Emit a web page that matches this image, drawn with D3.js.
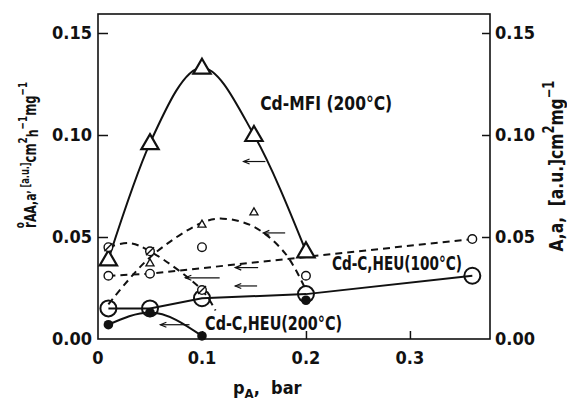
<!DOCTYPE html>
<html>
<head>
<meta charset="utf-8">
<script src="https://cdn.jsdelivr.net/npm/d3@7"></script>
<style>
  body { margin: 0; background: #fff; }
  svg { display: block; }
  text { font-family: "DejaVu Sans Condensed", "Liberation Sans Narrow", sans-serif; font-weight: bold; fill: #111; }
</style>
</head>
<body>
<svg width="567" height="401"></svg>
<script>
// data, [pA (bar), value]
var xTicks = [0, 0.1, 0.2, 0.3];
var xTickLabels = ["0", "0.1", "0.2", "0.3"];
var yTicks = [0, 0.05, 0.10, 0.15];
var yTickLabels = ["0.00", "0.05", "0.10", "0.15"];

// Cd-MFI (200°C) big triangles + solid curve
var mfiTri = [[0.01, 0.039], [0.05, 0.096], [0.10, 0.133], [0.15, 0.100], [0.20, 0.043]];
// Cd-C,HEU(100°C) big open circles, solid line
var heu100Big = [[0.01, 0.015], [0.05, 0.015], [0.10, 0.020], [0.20, 0.022], [0.36, 0.031]];
// small open circles, dashed line
var heu100Small = [[0.01, 0.031], [0.05, 0.032], [0.36, 0.049]];
var smallCircExtra = [[0.10, 0.045], [0.20, 0.031]];
// slashed small circles + falling dashed curve
var slashCirc = [[0.01, 0.045], [0.05, 0.043], [0.10, 0.024]];
var slashCurve = [[0.01, 0.045], [0.03, 0.047], [0.05, 0.043], [0.10, 0.024], [0.113, 0.014]];
// small triangles + hump dashed curve
var smallTri = [[0.05, 0.037], [0.10, 0.056], [0.15, 0.062]];
var humpCurve = [[0.01, 0.017], [0.05, 0.040], [0.10, 0.057], [0.12, 0.059], [0.15, 0.055], [0.18, 0.042], [0.20, 0.024]];
// Cd-C,HEU(200°C) filled circles + solid curve
var heu200 = [[0.01, 0.007], [0.05, 0.013], [0.10, 0.0015]];
var heu200Extra = [[0.20, 0.019]];
// little arrows pointing to the left axis: [x1, x2, y]
var arrows = [[0.140, 0.161, 0.087], [0.159, 0.180, 0.052], [0.132, 0.154, 0.035],
              [0.084, 0.117, 0.030], [0.132, 0.153, 0.026], [0.060, 0.088, 0.007]];
// curve labels: [text, x, y, length px]
var labels = [["Cd-MFI (200°C)", 0.156, 0.1125, 132], ["Cd-C,HEU(100°C)", 0.225, 0.0338, 130], ["Cd-C,HEU(200°C)", 0.103, 0.0045, 137]];

var svg = d3.select("svg");
var pLeft = 98, pRight = 490, pTop = 14, pBottom = 339;

var x = d3.scaleLinear().domain([0, 0.377]).range([pLeft, pRight]);
var y = d3.scaleLinear().domain([0, 0.05]).range([pBottom, pBottom - 102]);

var g = svg.append("g");

//边框
g.append("rect")
  .attr("x", pLeft).attr("y", pTop)
  .attr("width", pRight - pLeft).attr("height", pBottom - pTop)
  .attr("fill", "none").attr("stroke", "#111").attr("stroke-width", 1.6);

//刻度 (inward)
var xAxis = d3.axisBottom(x).tickValues(xTicks.slice(1)).tickSize(-8).tickFormat("");
g.append("g").attr("transform", `translate(0,${pBottom})`).call(xAxis)
  .call(a => a.select(".domain").remove())
  .selectAll("line").attr("stroke", "#111").attr("stroke-width", 1.5);
var yAxisL = d3.axisLeft(y).tickValues(yTicks.slice(1)).tickSize(-10).tickFormat("");
g.append("g").attr("transform", `translate(${pLeft},0)`).call(yAxisL)
  .call(a => a.select(".domain").remove())
  .selectAll("line").attr("stroke", "#111").attr("stroke-width", 1.5);
var yAxisR = d3.axisRight(y).tickValues(yTicks.slice(1)).tickSize(-8).tickFormat("");
g.append("g").attr("transform", `translate(${pRight},0)`).call(yAxisR)
  .call(a => a.select(".domain").remove())
  .selectAll("line").attr("stroke", "#111").attr("stroke-width", 1.5);

//刻度文字
g.selectAll(".xl").data(xTicks).enter().append("text")
  .attr("x", d => x(d)).attr("y", pBottom + 25)
  .attr("text-anchor", "middle").attr("font-size", 18)
  .text((d, i) => xTickLabels[i]);
g.selectAll(".yl").data(yTicks).enter().append("text")
  .attr("x", pLeft - 6).attr("y", d => y(d) + 6)
  .attr("text-anchor", "end").attr("font-size", 18)
  .text((d, i) => yTickLabels[i]);
g.selectAll(".yr").data(yTicks).enter().append("text")
  .attr("x", pRight + 5).attr("y", d => y(d) + 6)
  .attr("text-anchor", "start").attr("font-size", 18)
  .text((d, i) => yTickLabels[i]);

//轴标题
var xt = g.append("text").attr("x", 233).attr("y", 394).attr("font-size", 18);
xt.append("tspan").text("p");
xt.append("tspan").attr("font-size", 13).attr("dy", 4).text("A");
xt.append("tspan").attr("dy", -4).attr("xml:space", "preserve").text(",  bar");

var yl = g.append("text").attr("transform", "translate(36,155) rotate(-90) scale(0.76,1)")
  .attr("text-anchor", "middle").attr("font-size", 17);
yl.append("tspan").text("r");
yl.append("tspan").attr("font-size", 13).attr("dx", -8).attr("dy", -12).text("o");
yl.append("tspan").attr("font-size", 16).attr("dx", 0).attr("dy", 12).text("AA,a");
yl.append("tspan").attr("font-size", 12).attr("dy", -7).text(", [a.u.]");
yl.append("tspan").attr("font-size", 17).attr("dy", 7).text("cm");
yl.append("tspan").attr("font-size", 13).attr("dy", -9).text("2");
yl.append("tspan").attr("font-size", 16).attr("dy", 11).text("h");
yl.append("tspan").attr("font-size", 13).attr("dy", -11).text("−1");
yl.append("tspan").attr("font-size", 17).attr("dy", 9).text("mg");
yl.append("tspan").attr("font-size", 13).attr("dy", -9).text("−1");

var yr = g.append("text").attr("transform", "translate(563,166) rotate(-90) scale(0.86,1)")
  .attr("text-anchor", "middle").attr("font-size", 20);
yr.append("tspan").attr("xml:space", "preserve").text("A,a,  [a.u.]cm");
yr.append("tspan").attr("font-size", 15).attr("dy", -9).text("2");
yr.append("tspan").attr("font-size", 20).attr("dy", 9).text("mg");
yr.append("tspan").attr("font-size", 15).attr("dy", -9).text("−1");

//曲线
var smooth = d3.line().x(d => x(d[0])).y(d => y(d[1])).curve(d3.curveCatmullRom.alpha(0.5));
var mono = d3.line().x(d => x(d[0])).y(d => y(d[1])).curve(d3.curveMonotoneX);
var straight = d3.line().x(d => x(d[0])).y(d => y(d[1]));

g.append("path").attr("d", mono(mfiTri))
  .attr("fill", "none").attr("stroke", "#111").attr("stroke-width", 2);
g.append("path").attr("d", straight(heu100Big))
  .attr("fill", "none").attr("stroke", "#111").attr("stroke-width", 2);
g.append("path").attr("d", mono(heu200))
  .attr("fill", "none").attr("stroke", "#111").attr("stroke-width", 2);
g.append("path").attr("d", straight(heu100Small))
  .attr("fill", "none").attr("stroke", "#111").attr("stroke-width", 2).attr("stroke-dasharray", "7,5");
g.append("path").attr("d", smooth(slashCurve))
  .attr("fill", "none").attr("stroke", "#111").attr("stroke-width", 2).attr("stroke-dasharray", "7,5");
g.append("path").attr("d", smooth(humpCurve))
  .attr("fill", "none").attr("stroke", "#111").attr("stroke-width", 2).attr("stroke-dasharray", "7,5");

//小箭头
var ar = g.selectAll(".arrow").data(arrows).enter().append("g");
ar.append("line")
  .attr("x1", d => x(d[0])).attr("x2", d => x(d[1]))
  .attr("y1", d => y(d[2])).attr("y2", d => y(d[2]))
  .attr("stroke", "#111").attr("stroke-width", 1.2);
ar.append("path")
  .attr("d", d => `M${x(d[0]) + 6},${y(d[2]) - 2.5}L${x(d[0])},${y(d[2])}L${x(d[0]) + 6},${y(d[2]) + 2.5}`)
  .attr("fill", "none").attr("stroke", "#111").attr("stroke-width", 1.2);

//符号
var tri = d3.symbol().type(d3.symbolTriangle);
g.selectAll(".bigTri").data(mfiTri).enter().append("path")
  .attr("d", tri.size(130)())
  .attr("transform", d => `translate(${x(d[0])},${y(d[1]) + 1})`)
  .attr("fill", "#fff").attr("stroke", "#111").attr("stroke-width", 2.2);
g.selectAll(".smallTri").data(smallTri).enter().append("path")
  .attr("d", tri.size(28)())
  .attr("transform", d => `translate(${x(d[0])},${y(d[1])})`)
  .attr("fill", "#fff").attr("stroke", "#111").attr("stroke-width", 1.3);

g.selectAll(".fillC").data(heu200.concat(heu200Extra)).enter().append("circle")
  .attr("cx", d => x(d[0])).attr("cy", d => y(d[1])).attr("r", 4.8)
  .attr("fill", "#111");
g.selectAll(".bigC").data(heu100Big).enter().append("circle")
  .attr("cx", d => x(d[0])).attr("cy", d => y(d[1])).attr("r", 8)
  .attr("fill", "none").attr("stroke", "#111").attr("stroke-width", 2);
g.selectAll(".smallC").data(heu100Small.concat(smallCircExtra)).enter().append("circle")
  .attr("cx", d => x(d[0])).attr("cy", d => y(d[1])).attr("r", 4.3)
  .attr("fill", "#fff").attr("stroke", "#111").attr("stroke-width", 1.4);
var sc = g.selectAll(".slashC").data(slashCirc).enter().append("g")
  .attr("transform", d => `translate(${x(d[0])},${y(d[1])})`);
sc.append("circle").attr("r", 4.3)
  .attr("fill", "#fff").attr("stroke", "#111").attr("stroke-width", 1.4);
sc.append("line").attr("x1", -4).attr("y1", 4).attr("x2", 4).attr("y2", -4)
  .attr("stroke", "#111").attr("stroke-width", 1.4);

//标注
g.selectAll(".lab").data(labels).enter().append("text")
  .attr("x", d => x(d[1])).attr("y", d => y(d[2]))
  .attr("font-size", 19)
  .attr("textLength", d => d[3]).attr("lengthAdjust", "spacingAndGlyphs")
  .text(d => d[0]);
</script>
</body>
</html>
